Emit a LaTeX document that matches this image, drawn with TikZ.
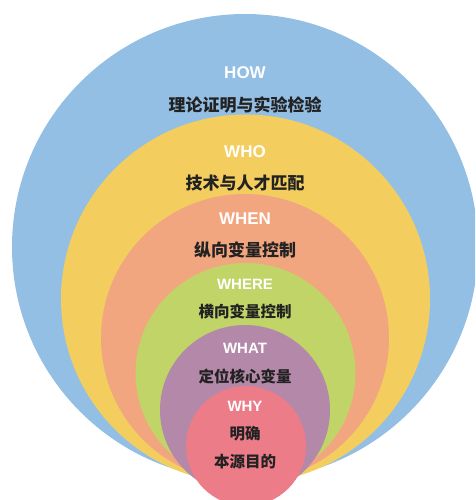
\documentclass[tikz,border=0pt]{standalone}
\usepackage{fontspec}
\setmainfont{Liberation Sans}
\newfontfamily\cjk{Noto Sans CJK SC}
\definecolor{cblue}{RGB}{147,191,228}
\definecolor{cyellow}{RGB}{243,206,95}
\definecolor{csalmon}{RGB}{242,166,128}
\definecolor{cgreen}{RGB}{192,212,104}
\definecolor{cpurple}{RGB}{179,136,168}
\definecolor{cred}{RGB}{236,124,136}
\definecolor{ctext}{RGB}{34,34,34}
\begin{document}
\begin{tikzpicture}[x=1pt,y=-1pt,
  ring/.style={circle,inner sep=0pt,draw=none},
  entitle/.style={text=white,font=\fontsize{#1}{#1}\selectfont\bfseries,inner sep=0pt},
  zhlabel/.style={text=ctext,font=\fontsize{#1}{#1}\selectfont\cjk\bfseries,inner sep=0pt}]
\useasboundingbox (0,0) rectangle (475,500);
\clip (0,0) rectangle (475,500);
\node[ring,fill=cblue,minimum size=466pt] (how) at (245,247) {};
\node[ring,fill=cyellow,minimum size=369pt] (who) at (245.5,299) {};
\node[ring,fill=csalmon,minimum size=288pt] (when) at (245,338) {};
\node[ring,fill=cgreen,minimum size=220pt] (where) at (245.5,373) {};
\node[ring,fill=cpurple,minimum size=170pt] (what) at (245,410) {};
\node[ring,fill=cred,minimum size=120pt] (why) at (246,446) {};
\node[entitle=17] (t1) at (245,73) {HOW};
\node[zhlabel=17] (z1) at (245,105) {理论证明与实验检验};
\node[entitle=17] (t2) at (245,152) {WHO};
\node[zhlabel=17] (z2) at (245,183) {技术与人才匹配};
\node[entitle=17] (t3) at (245,219) {WHEN};
\node[zhlabel=17] (z3) at (245,250) {纵向变量控制};
\node[entitle=15] (t4) at (245,284) {WHERE};
\node[zhlabel=15.5] (z4) at (245,312) {横向变量控制};
\node[entitle=15] (t5) at (245,348) {WHAT};
\node[zhlabel=15.5] (z5) at (245,376) {定位核心变量};
\node[entitle=15] (t6) at (245,406) {WHY};
\node[zhlabel=15.5] (z6) at (245,434) {明确};
\node[zhlabel=15.5] (z7) at (245,462) {本源目的};
\end{tikzpicture}
\end{document}
